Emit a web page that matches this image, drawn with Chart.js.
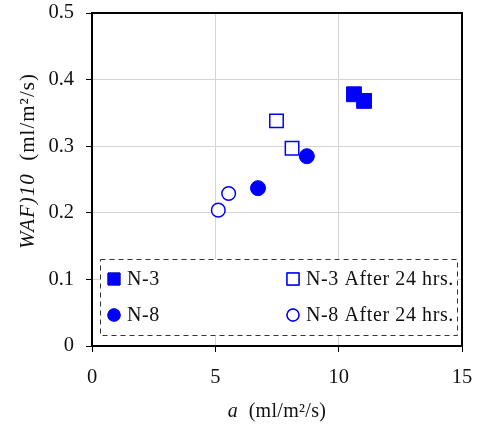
<!DOCTYPE html>
<html>
<head>
<meta charset="utf-8">
<script src="https://cdn.jsdelivr.net/npm/chart.js@4/dist/chart.umd.min.js"></script>
<style>
  html, body { margin: 0; padding: 0; background: #fff; }
  #wrap { width: 478px; height: 426px; }
</style>
</head>
<body>
<div id="wrap"><canvas id="chart" width="478" height="426"></canvas></div>
<script>
// Datos
const seriesNames = ['N-3', 'N-8', 'N-3 After 24 hrs.', 'N-8 After 24 hrs.'];
const n3X = [10.62, 11.03];
const n3Y = [0.378, 0.368];
const n8X = [6.73, 8.71];
const n8Y = [0.237, 0.285];
const n3AfterX = [7.48, 8.11];
const n3AfterY = [0.338, 0.297];
const n8AfterX = [5.12, 5.54];
const n8AfterY = [0.204, 0.229];
const xTicks = [0, 5, 10, 15];
const yTicks = [0, 0.1, 0.2, 0.3, 0.4, 0.5];

const BLUE = '#0000ff';
const FONT = "'Liberation Serif', 'Times New Roman', serif";

function pts(xs, ys) {
    return xs.map((x, i) => ({ x, y: ys[i] }));
}

// Leyenda con borde discontinuo y títulos de ejes (cursiva mezclada)
const extrasPlugin = {
    id: 'extras',
    afterDraw(chart) {
        const ctx = chart.ctx;
        const a = chart.chartArea;
        ctx.save();

        // marco completo del área
        ctx.strokeStyle = '#000';
        ctx.lineWidth = 2;
        ctx.strokeRect(a.left, a.top, a.right - a.left, a.bottom - a.top);

        // caja de leyenda
        const bx = a.left + 8, by = a.bottom - 87, bw = a.right - a.left - 13, bh = 76;
        ctx.fillStyle = '#fff';
        ctx.fillRect(bx, by, bw, bh);
        ctx.setLineDash([5, 4]);
        ctx.lineWidth = 1;
        ctx.strokeStyle = '#333';
        ctx.strokeRect(bx + 0.5, by + 0.5, bw, bh);
        ctx.setLineDash([]);

        const cols = [bx + 14, bx + 193];
        const rows = [by + 20, by + 56];
        const items = [
            { ds: 0, c: 0, r: 0 }, { ds: 2, c: 1, r: 0 },
            { ds: 1, c: 0, r: 1 }, { ds: 3, c: 1, r: 1 }
        ];
        ctx.font = '20px ' + FONT;
        ctx.letterSpacing = '0.6px';
        ctx.textBaseline = 'middle';
        ctx.textAlign = 'left';
        items.forEach(it => {
            const ds = chart.data.datasets[it.ds];
            const x = cols[it.c], y = rows[it.r];
            Chart.helpers.drawPoint(ctx, {
                pointStyle: ds.pointStyle,
                radius: ds.pointStyle === 'rect' ? 8.5 : 6,
                borderWidth: ds.borderWidth
            }, x, y);
            ctx.fillStyle = ds.backgroundColor;
            ctx.strokeStyle = ds.borderColor;
            ctx.lineWidth = ds.borderWidth;
            ctx.fill();
            ctx.stroke();
            ctx.fillStyle = '#111';
            ctx.fillText(ds.label, x + 13, y + 1);
        });

        // título eje x: "a (ml/m²/s)"
        ctx.letterSpacing = '0.3px';
        ctx.fillStyle = '#111';
        ctx.textBaseline = 'middle';
        const xt1 = 'a', xt2 = '  (ml/m²/s)';
        ctx.font = 'italic 20px ' + FONT;
        const w1 = ctx.measureText(xt1).width;
        ctx.font = '20px ' + FONT;
        const w2 = ctx.measureText(xt2).width;
        let sx = (a.left + a.right) / 2 - (w1 + w2) / 2;
        ctx.font = 'italic 20px ' + FONT;
        ctx.fillText(xt1, sx, 412);
        ctx.font = '20px ' + FONT;
        ctx.fillText(xt2, sx + w1, 412);

        // título eje y: "WAF)10 (ml/m²/s)"
        ctx.letterSpacing = '1px';
        ctx.translate(28, 161);
        ctx.rotate(-Math.PI / 2);
        const yt1 = 'WAF)10', yt2 = '  (ml/m²/s)';
        ctx.font = 'italic 21px ' + FONT;
        const v1 = ctx.measureText(yt1).width;
        ctx.font = '21px ' + FONT;
        const v2 = ctx.measureText(yt2).width;
        sx = -(v1 + v2) / 2;
        ctx.font = 'italic 21px ' + FONT;
        ctx.fillText(yt1, sx, 0);
        ctx.font = '21px ' + FONT;
        ctx.fillText(yt2, sx + v1, 0);
        ctx.restore();
    }
};

const ctx = document.getElementById('chart').getContext('2d');
const chart = new Chart(ctx, {
    type: 'scatter',
    data: {
        datasets: [
            { label: seriesNames[0], data: pts(n3X, n3Y), pointStyle: 'rect', pointRadius: 10.5,
              backgroundColor: BLUE, borderColor: BLUE, borderWidth: 1 },
            { label: seriesNames[1], data: pts(n8X, n8Y), pointStyle: 'circle', pointRadius: 7.5,
              backgroundColor: BLUE, borderColor: BLUE, borderWidth: 1 },
            { label: seriesNames[2], data: pts(n3AfterX, n3AfterY), pointStyle: 'rect', pointRadius: 9.5,
              backgroundColor: '#fff', borderColor: BLUE, borderWidth: 1.5 },
            { label: seriesNames[3], data: pts(n8AfterX, n8AfterY), pointStyle: 'circle', pointRadius: 6.8,
              backgroundColor: '#fff', borderColor: BLUE, borderWidth: 1.5 }
        ]
    },
    options: {
        responsive: false,
        animation: false,
        layout: { padding: { top: 13, right: 16, left: 0, bottom: 0 } },
        plugins: { legend: { display: false }, tooltip: { enabled: false } },
        elements: { point: { hoverRadius: 0 } },
        scales: {
            x: {
                type: 'linear', min: 0, max: 15,
                afterFit(s) { s.height = 80; s.paddingLeft = 0; s.paddingRight = 0; },
                afterBuildTicks(s) { s.ticks = xTicks.map(v => ({ value: v })); },
                grid: { color: '#d4d4d4', tickColor: '#000', tickLength: 6, lineWidth: 1 },
                border: { color: '#000', width: 2 },
                ticks: { color: '#111', padding: 13, font: { family: FONT, size: 20.5 } }
            },
            y: {
                type: 'linear', min: 0, max: 0.5,
                afterFit(s) { s.width = 92; s.paddingTop = 0; s.paddingBottom = 0; },
                afterBuildTicks(s) { s.ticks = yTicks.map(v => ({ value: v })); },
                grid: { color: '#d4d4d4', tickColor: '#000', tickLength: 6, lineWidth: 1 },
                border: { color: '#000', width: 2 },
                ticks: {
                    color: '#111', padding: 12, font: { family: FONT, size: 20.5 },
                    callback: v => v === 0 ? '0' : v.toFixed(1)
                }
            }
        }
    },
    plugins: [extrasPlugin]
});
</script>
</body>
</html>
